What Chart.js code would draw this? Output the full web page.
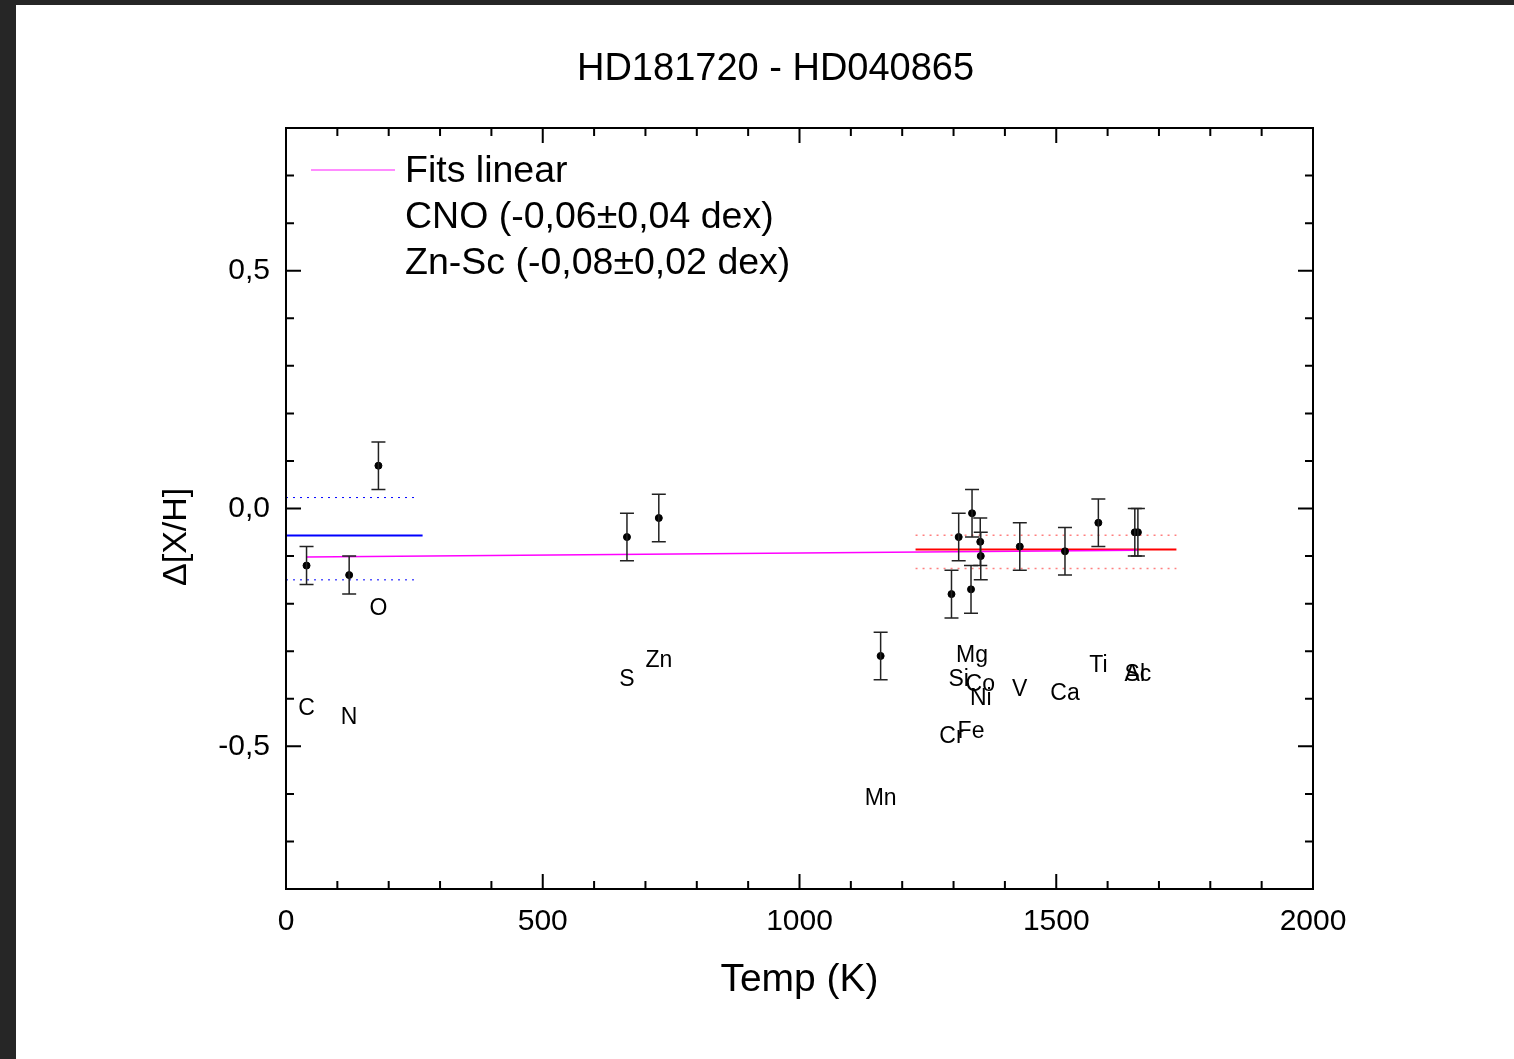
<!DOCTYPE html>
<html>
<head>
<meta charset="utf-8">
<script src="https://cdn.jsdelivr.net/npm/chart.js@4.4.0/dist/chart.umd.min.js"></script>
<style>
html, body { margin: 0; padding: 0; background: #262626; width: 1514px; height: 1059px; overflow: hidden; }
#wrap { position: absolute; left: 16px; top: 5px; width: 1498px; height: 1054px; background: #fff; }
</style>
</head>
<body>
<div id="wrap"><canvas id="c" width="1498" height="1054"></canvas></div>
<script>
'use strict';

// abundance differences against 50% condensation temperature
var elements = ['C', 'N', 'O', 'S', 'Zn', 'Mn', 'Cr', 'Si', 'Fe', 'Mg', 'Co', 'Ni', 'V', 'Ca', 'Ti', 'Al', 'Sc'];
var tempK = [40, 123, 180, 664, 726, 1158, 1296, 1310, 1334, 1336, 1352, 1353, 1429, 1517, 1582, 1653, 1659];
var deltaXH = [-0.12, -0.14, 0.09, -0.06, -0.02, -0.31, -0.18, -0.06, -0.17, -0.01, -0.07, -0.10, -0.08, -0.09, -0.03, -0.05, -0.05];
var errXH = [0.04, 0.04, 0.05, 0.05, 0.05, 0.05, 0.05, 0.05, 0.05, 0.05, 0.05, 0.05, 0.05, 0.05, 0.05, 0.05, 0.05];
var labelShift = -0.3; // element names sit below their points

// linear fit over all elements
var fitT = [40, 1659];
var fitY = [-0.102, -0.088];

// CNO mean and spread
var cnoT = [0, 266];
var cnoBandT = [0, 251];
var cnoMean = -0.057, cnoUpper = 0.023, cnoLower = -0.15;

// Zn-Sc mean and spread
var znScT = [1226, 1734];
var znScMean = -0.086, znScUpper = -0.056, znScLower = -0.126;

var xTicks = [0, 500, 1000, 1500, 2000];
var yTicks = [-0.5, 0, 0.5];
var legendTexts = ['Fits linear', 'CNO (-0,06\u00b10,04 dex)', 'Zn-Sc (-0,08\u00b10,02 dex)'];

var FONT = '"Liberation Sans", Arial, sans-serif';

var toPoints = function (xs, ys) {
	return xs.map(function (x, i) {
		return { x: x, y: ys[i] };
	});
};
var flat = function (xs, y) {
	return xs.map(function (x) {
		return { x: x, y: y };
	});
};
var lineSet = function (data, color, width, dash) {
	return {
		type: 'line',
		data: data,
		borderColor: color,
		borderWidth: width,
		borderDash: dash || [],
		pointRadius: 0,
		fill: false,
		tension: 0
	};
};

var errorBars = {
	id: 'errorBars',
	afterDatasetsDraw: function (chart) {
		var ctx = chart.ctx,
			xs = chart.scales.x,
			ys = chart.scales.y,
			cap = 7;
		ctx.save();
		ctx.strokeStyle = '#222';
		ctx.lineWidth = 1.5;
		tempK.forEach(function (t, i) {
			var px = xs.getPixelForValue(t),
				top = ys.getPixelForValue(deltaXH[i] + errXH[i]),
				bot = ys.getPixelForValue(deltaXH[i] - errXH[i]);
			ctx.beginPath();
			ctx.moveTo(px, top);
			ctx.lineTo(px, bot);
			ctx.moveTo(px - cap, top);
			ctx.lineTo(px + cap, top);
			ctx.moveTo(px - cap, bot);
			ctx.lineTo(px + cap, bot);
			ctx.stroke();
		});
		// element names
		ctx.fillStyle = '#000';
		ctx.font = '23px ' + FONT;
		ctx.textAlign = 'center';
		ctx.textBaseline = 'middle';
		elements.forEach(function (el, i) {
			ctx.fillText(el, xs.getPixelForValue(tempK[i]), ys.getPixelForValue(deltaXH[i] + labelShift));
		});
		ctx.restore();
	}
};

var frame = {
	id: 'frame',
	afterDraw: function (chart) {
		var ctx = chart.ctx,
			a = chart.chartArea,
			xs = chart.scales.x,
			ys = chart.scales.y,
			k, px, py, len;
		ctx.save();
		ctx.strokeStyle = '#000';
		ctx.lineWidth = 2;
		ctx.strokeRect(a.left, a.top, a.right - a.left, a.bottom - a.top);
		ctx.beginPath();
		// inward ticks on all four sides
		for (k = 0; k <= 20; k++) {
			px = xs.getPixelForValue(k * 100);
			len = k % 5 === 0 ? 15 : 8;
			ctx.moveTo(px, a.bottom);
			ctx.lineTo(px, a.bottom - len);
			ctx.moveTo(px, a.top);
			ctx.lineTo(px, a.top + len);
		}
		for (k = -8; k <= 8; k++) {
			py = ys.getPixelForValue(k / 10);
			len = k % 5 === 0 ? 15 : 8;
			ctx.moveTo(a.left, py);
			ctx.lineTo(a.left + len, py);
			ctx.moveTo(a.right, py);
			ctx.lineTo(a.right - len, py);
		}
		ctx.stroke();

		// legend in the upper left of the plot
		var lx = a.left + 25, ly = a.top + 42, gap = 46;
		ctx.strokeStyle = '#ff66ff';
		ctx.lineWidth = 1.5;
		ctx.beginPath();
		ctx.moveTo(lx, ly);
		ctx.lineTo(lx + 84, ly);
		ctx.stroke();
		ctx.fillStyle = '#000';
		ctx.font = '37.5px ' + FONT;
		ctx.textAlign = 'left';
		ctx.textBaseline = 'middle';
		legendTexts.forEach(function (txt, i) {
			ctx.fillText(txt, lx + 94, ly + 2 + i * gap);
		});
		ctx.restore();
	}
};

new Chart(document.getElementById('c'), {
	type: 'scatter',
	data: {
		datasets: [
			{
				data: toPoints(tempK, deltaXH),
				backgroundColor: '#000',
				borderColor: '#000',
				pointRadius: 3.5,
				pointHoverRadius: 3.5,
				order: 0
			},
			lineSet(toPoints(fitT, fitY), '#ff00ff', 1.5),
			lineSet(flat(cnoT, cnoMean), '#0000ff', 2),
			lineSet(flat(cnoBandT, cnoUpper), '#0000ff', 1, [2, 5]),
			lineSet(flat(cnoBandT, cnoLower), '#0000ff', 1, [2, 5]),
			lineSet(flat(znScT, znScMean), '#ff0000', 2),
			lineSet(flat(znScT, znScUpper), '#ff8080', 1.5, [2, 5]),
			lineSet(flat(znScT, znScLower), '#ff8080', 1.5, [2, 5])
		]
	},
	options: {
		responsive: false,
		animation: false,
		devicePixelRatio: 1,
		layout: { padding: 0 },
		plugins: {
			legend: { display: false },
			tooltip: { enabled: false },
			title: {
				display: true,
				text: '  HD181720 - HD040865',
				color: '#000',
				font: { family: FONT, size: 38, weight: 'normal' },
				padding: { top: 42, bottom: 35.4 }
			}
		},
		scales: {
			x: {
				type: 'linear',
				min: 0,
				max: 2000,
				afterFit: function (scale) { scale.height = 170; },
				afterBuildTicks: function (scale) {
					scale.ticks = xTicks.map(function (v) { return { value: v }; });
				},
				grid: { display: false, drawTicks: false },
				border: { display: false },
				ticks: {
					color: '#000',
					padding: 15,
					maxRotation: 0,
					font: { family: FONT, size: 30 },
					callback: function (v) { return String(v); }
				},
				title: {
					display: true,
					text: 'Temp (K)',
					color: '#000',
					font: { family: FONT, size: 39 },
					padding: { top: 0, bottom: 55 }
				}
			},
			y: {
				type: 'linear',
				min: -0.8,
				max: 0.8,
				afterFit: function (scale) { scale.width = 270; },
				afterBuildTicks: function (scale) {
					scale.ticks = yTicks.map(function (v) { return { value: v }; });
				},
				grid: { display: false, drawTicks: false },
				border: { display: false },
				ticks: {
					color: '#000',
					padding: 16,
					font: { family: FONT, size: 30 },
					callback: function (v) { return v.toFixed(1).replace('.', ','); }
				},
				title: {
					display: true,
					text: '\u0394[X/H]      ',
					color: '#000',
					font: { family: FONT, size: 34 },
					padding: { top: 140, bottom: 0 }
				}
			},
			// empty right-hand box that keeps the plot clear of the right margin
			yRight: {
				type: 'linear',
				position: 'right',
				display: true,
				min: -0.8,
				max: 0.8,
				afterFit: function (scale) { scale.width = 201; },
				grid: { display: false, drawTicks: false },
				border: { display: false },
				ticks: { display: false }
			}
		}
	},
	plugins: [errorBars, frame]
});
</script>
</body>
</html>
